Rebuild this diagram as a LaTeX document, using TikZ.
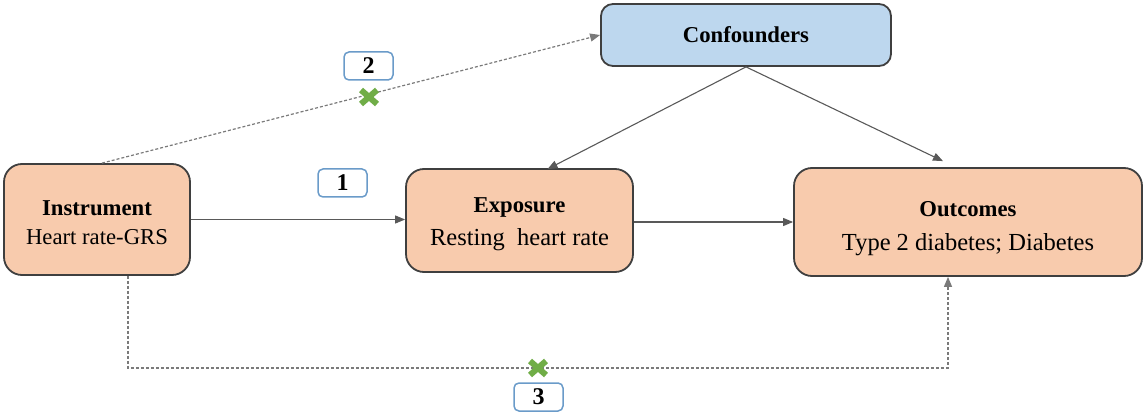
\documentclass[tikz,border=0pt]{standalone}
\usepackage{fontspec}
\setmainfont{Liberation Serif}
\usetikzlibrary{arrows.meta,calc}
\definecolor{boxorange}{HTML}{F8CBAD}
\definecolor{boxblue}{HTML}{BDD7EE}
\definecolor{boxline}{HTML}{3F3F3F}
\definecolor{lblline}{HTML}{6A9BC9}
\definecolor{crossgreen}{HTML}{70AD47}
\definecolor{arrgray}{HTML}{595959}
\tikzset{
  mainbox/.style={draw=boxline, line width=1.8pt, fill=boxorange, rounded corners=18pt, inner sep=0pt},
  boxtext/.style={inner sep=0pt, align=center, font=\fontsize{22.7}{29}\selectfont},
  confbox/.style={draw=boxline, line width=1.8pt, fill=boxblue, rounded corners=12pt, inner sep=0pt, align=center, font=\fontsize{22.7}{29}\selectfont\bfseries},
  lblbox/.style={draw=lblline, line width=1.5pt, fill=white, rounded corners=5pt, inner sep=0pt, minimum width=49pt, minimum height=28pt, font=\fontsize{24}{28}\selectfont\bfseries},
  arr/.style={draw=arrgray, line width=1.1pt, -{Triangle[length=10pt,width=8pt]}},
  dotarr/.style={draw=arrgray!80, line width=1.2pt, dash pattern=on 3pt off 2pt, -{Triangle[length=10pt,width=8pt]}},
  crossmark/.style={draw=crossgreen, line width=6pt},
}
\begin{document}
\begin{tikzpicture}[x=1pt,y=-1pt]
\useasboundingbox (0,0) rectangle (1144,417);
\node[mainbox, minimum width=186pt, minimum height=111pt] (inst) at (97,219.5) {};
\node[mainbox, minimum width=227pt, minimum height=103pt] (exp) at (519.5,220.5) {};
\node[mainbox, minimum width=348pt, minimum height=108pt] (out) at (968,222) {};
\node[confbox, minimum width=290pt, minimum height=62pt] (conf) at (746,35) {Confounders};

\node[boxtext] (instt) at ([yshift=-3.5pt]inst.center) {\textbf{Instrument}\\Heart rate-GRS};
\node[boxtext] (expt) at ([yshift=-4pt]exp.center) {\textbf{Exposure}\\[4pt]\fontsize{24.5}{30}\selectfont Resting\ \ heart rate};
\node[boxtext] (outt) at ([yshift=-7pt]out.center) {\textbf{Outcomes}\\[5pt]\fontsize{24.5}{30}\selectfont Type 2 diabetes; Diabetes};

\node[lblbox] (l1) at (342.5,183) {1};
\node[lblbox] (l2) at (368.5,66) {2};
\node[lblbox] (l3) at (538.5,397) {3};

% solid arrows
\draw[arr] (inst.east) -- (inst.east -| exp.west);
\draw[arr] (exp.east |- 0,222) -- (out.west |- 0,222);
\draw[arr] (conf.south) -- ([xshift=28pt,yshift=-1pt]exp.north);
\draw[arr] (conf.south) -- ([xshift=-25pt,yshift=6pt]out.north);

% dotted paths
\coordinate (d1) at ([xshift=5pt]inst.north);
\coordinate (d2) at ([xshift=31pt]inst.south);
\coordinate (d3) at ([xshift=-20pt]out.south);
\draw[dotarr] (d1) -- (conf.west);
\draw[dotarr] (d2) -- (d2 |- 0,368) -- (d3 |- 0,368) -- (d3);

% crosses
\coordinate (c2) at (369,97);
\coordinate (c3) at (538,368);
\foreach \c in {c2,c3}{
  \draw[crossmark] ($(\c)+(-8,-7)$) -- ($(\c)+(8,7)$);
  \draw[crossmark] ($(\c)+(-8,7)$) -- ($(\c)+(8,-7)$);
}
\end{tikzpicture}
\end{document}
